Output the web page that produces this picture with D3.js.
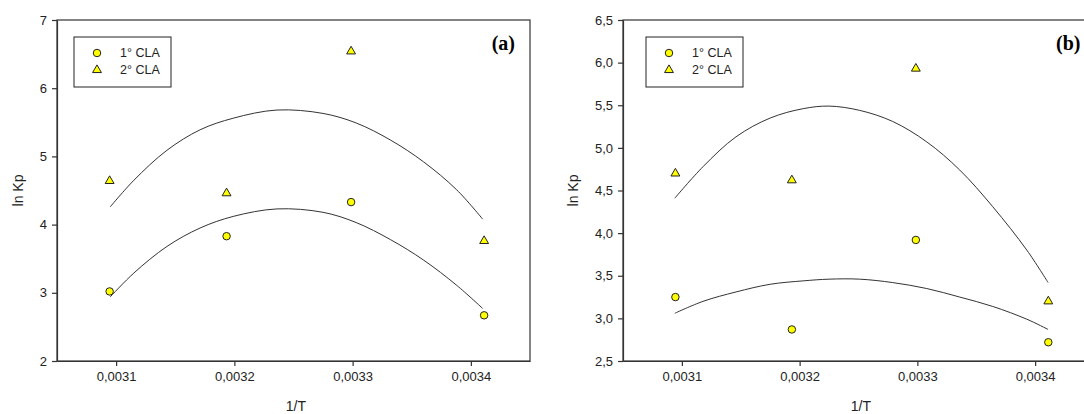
<!DOCTYPE html>
<html>
<head>
<meta charset="utf-8">
<script src="https://cdn.jsdelivr.net/npm/d3@7"></script>
<style>
  body { margin: 0; background: #fff; }
  svg { display: block; }
</style>
</head>
<body>
<div id="chart"></div>
<script>
// 1/T values (K^-1)
var invT = [0.0030945, 0.0031934, 0.0032987, 0.0034112];

// panel (a) - ln Kp
var aCla1 = [3.02, 3.83, 4.33, 2.67];
var aCla2 = [4.64, 4.46, 6.54, 3.76];
// panel (b) - ln Kp
var bCla1 = [3.25, 2.87, 3.92, 2.72];
var bCla2 = [4.70, 4.62, 5.93, 3.20];

// fitted curves
var aFitX = [0.003095, 0.003115, 0.003143, 0.003171, 0.003199, 0.003236, 0.003275, 0.003303, 0.003332, 0.00336, 0.003388, 0.00341];
var aFit1 = [2.94, 3.29, 3.68, 3.95, 4.12, 4.23, 4.18, 4.03, 3.78, 3.48, 3.11, 2.77];
var aFit2 = [4.26, 4.65, 5.09, 5.39, 5.56, 5.68, 5.63, 5.49, 5.24, 4.92, 4.51, 4.08];

var bFitX = [0.003094, 0.003118, 0.003146, 0.003175, 0.003203, 0.003225, 0.003251, 0.003279, 0.003308, 0.003336, 0.003364, 0.003393, 0.003411];
var bFit1 = [3.06, 3.20, 3.31, 3.40, 3.44, 3.46, 3.46, 3.42, 3.35, 3.25, 3.14, 2.99, 2.87];
var bFit2 = [4.41, 4.78, 5.13, 5.35, 5.46, 5.49, 5.44, 5.31, 5.07, 4.74, 4.31, 3.80, 3.42];

var xTicks = [0.0031, 0.0032, 0.0033, 0.0034];
var aYTicks = [2, 3, 4, 5, 6, 7];
var bYTicks = [2.5, 3.0, 3.5, 4.0, 4.5, 5.0, 5.5, 6.0, 6.5];
var seriesNames = ["1° CLA", "2° CLA"];

var svgWidth = 1084;
var svgHeight = 414;
var sans = "Arial, 'Liberation Sans', sans-serif";

var svg = d3.select("#chart")
  .append("svg")
  .attr("width", svgWidth)
  .attr("height", svgHeight)
  .style("font-family", sans);

var comma = function(fmt) {
  return function(d) { return d3.format(fmt)(d).replace(".", ","); };
};

var panels = [
  { left: 57, right: 530, yDomain: [2, 7], yTicks: aYTicks, yFmt: comma("d"),
    c1: aCla1, c2: aCla2, fitX: aFitX, f1: aFit1, f2: aFit2,
    label: "(a)", labelX: 515, titleX: 18, legendX: 74 },
  { left: 623, right: 1094, yDomain: [2.5, 6.5], yTicks: bYTicks, yFmt: comma(".1f"),
    c1: bCla1, c2: bCla2, fitX: bFitX, f1: bFit1, f2: bFit2,
    label: "(b)", labelX: 1056, titleX: 573, legendX: 646 }
];

var plotTop = 20, plotBottom = 361;

panels.forEach(function(p) {
  var x = d3.scaleLinear().domain([0.00305, 0.00345]).range([p.left, p.right]);
  var y = d3.scaleLinear().domain(p.yDomain).range([plotBottom, plotTop]);
  var g = svg.append("g");

  // frame
  g.append("rect")
    .attr("x", p.left).attr("y", plotTop)
    .attr("width", p.right - p.left).attr("height", plotBottom - plotTop)
    .attr("fill", "none").attr("stroke", "#333").attr("stroke-width", 1.2);

  var xAxis = g.append("g")
    .attr("transform", "translate(0," + plotBottom + ")")
    .call(d3.axisBottom(x).tickValues(xTicks).tickFormat(comma(".4f")).tickSize(5).tickPadding(6).tickSizeOuter(0));
  var yAxis = g.append("g")
    .attr("transform", "translate(" + p.left + ",0)")
    .call(d3.axisLeft(y).tickValues(p.yTicks).tickFormat(p.yFmt).tickSize(5).tickPadding(5).tickSizeOuter(0));
  [xAxis, yAxis].forEach(function(ax) {
    ax.select(".domain").attr("stroke", "#333").attr("stroke-width", 1.2);
    ax.selectAll(".tick line").attr("stroke", "#333").attr("stroke-width", 1.2);
    ax.selectAll(".tick text").attr("font-size", 13).attr("font-family", sans).attr("fill", "#222");
  });

  // axis titles
  g.append("text")
    .attr("x", x(0.003252))
    .attr("y", 411)
    .attr("text-anchor", "middle")
    .attr("font-size", 14)
    .attr("fill", "#222")
    .text("1/T");
  g.append("text")
    .attr("transform", "translate(" + p.titleX + "," + ((plotTop + plotBottom) / 2) + ") rotate(-90)")
    .attr("text-anchor", "middle")
    .attr("dy", "0.35em")
    .attr("font-size", 14)
    .attr("fill", "#222")
    .text("ln Kp");

  // fitted curves
  var line = d3.line()
    .x(function(d) { return x(d[0]); })
    .y(function(d) { return y(d[1]); })
    .curve(d3.curveCatmullRom.alpha(0.5));
  [p.f1, p.f2].forEach(function(f) {
    g.append("path")
      .datum(p.fitX.map(function(v, i) { return [v, f[i]]; }))
      .attr("d", line)
      .attr("fill", "none")
      .attr("stroke", "#333")
      .attr("stroke-width", 1);
  });

  // points
  var circle = d3.symbol().type(d3.symbolCircle).size(44);
  var tri = d3.symbol().type(d3.symbolTriangle).size(34);
  g.selectAll(".c1").data(p.c1).enter().append("path")
    .attr("class", "c1")
    .attr("d", circle)
    .attr("transform", function(d, i) { return "translate(" + x(invT[i]) + "," + y(d) + ")"; })
    .attr("fill", "#ffff00").attr("stroke", "#222").attr("stroke-width", 1);
  g.selectAll(".c2").data(p.c2).enter().append("path")
    .attr("class", "c2")
    .attr("d", tri)
    .attr("transform", function(d, i) { return "translate(" + x(invT[i]) + "," + y(d) + ")"; })
    .attr("fill", "#ffff00").attr("stroke", "#222").attr("stroke-width", 1);

  // legend
  var lg = g.append("g").attr("transform", "translate(" + p.legendX + ",37)");
  lg.append("rect")
    .attr("width", 97).attr("height", 50)
    .attr("fill", "#fff").attr("stroke", "#222").attr("stroke-width", 1);
  seriesNames.forEach(function(name, i) {
    lg.append("path")
      .attr("d", i === 0 ? circle : tri)
      .attr("transform", "translate(23," + (16 + i * 17) + ")")
      .attr("fill", "#ffff00").attr("stroke", "#222").attr("stroke-width", 1);
    lg.append("text")
      .attr("x", 46).attr("y", 16 + i * 17)
      .attr("dy", "0.35em")
      .attr("font-size", 12.5)
      .attr("fill", "#222")
      .text(name);
  });

  // panel label
  g.append("text")
    .attr("x", p.labelX).attr("y", 50)
    .attr("text-anchor", p.label === "(a)" ? "end" : "start")
    .style("font-family", "'Liberation Serif', 'DejaVu Serif', serif")
    .attr("font-weight", "bold")
    .attr("font-size", 20)
    .attr("fill", "#000")
    .text(p.label);
});
</script>
</body>
</html>
